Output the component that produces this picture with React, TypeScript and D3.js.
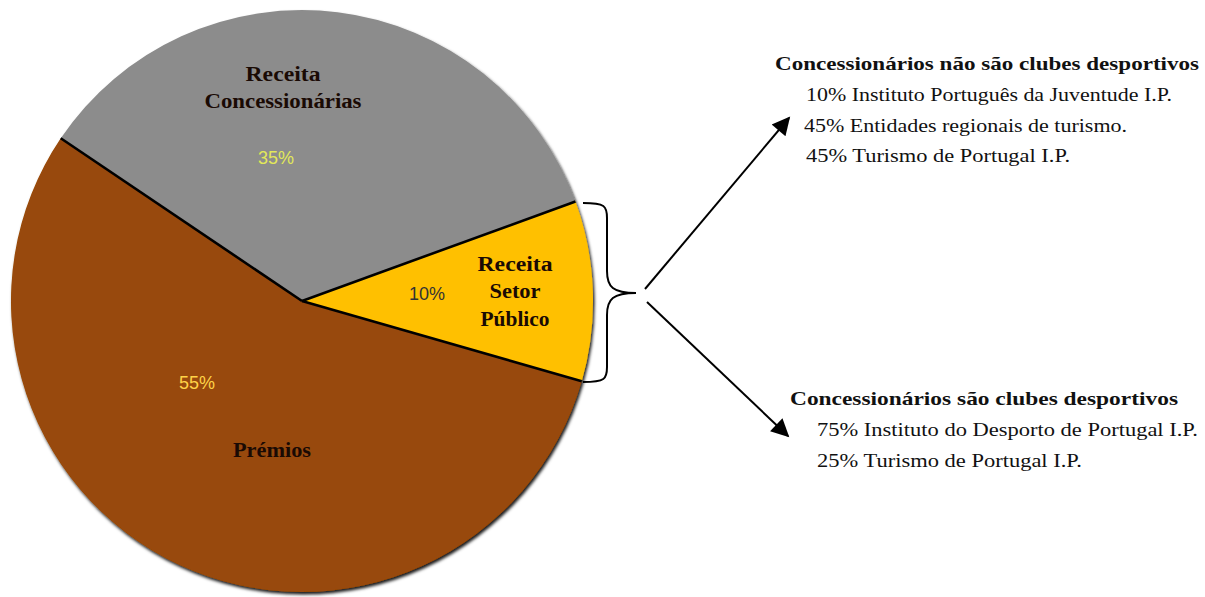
import React from "react";
import * as d3 from "d3";

const categories = ["Receita Setor Público", "Prémios", "Receita Concessionárias"];
const values = [10, 55, 35];
const pctLabels = ["10%", "55%", "35%"];
const sliceColors = ["#FFC000", "#984807", "#8C8C8C"];
const pctColors = ["#333333", "#FFD347", "#E2E85A"];
const nameLines = [["Receita", "Setor", "Público"], ["Prémios"], ["Receita", "Concessionárias"]];

const topHeading = "Concessionários não são clubes desportivos";
const topItems = [
  "10% Instituto Português da Juventude I.P.",
  "45% Entidades regionais de turismo.",
  "45% Turismo de Portugal I.P.",
];
const bottomHeading = "Concessionários são clubes desportivos";
const bottomItems = [
  "75% Instituto do Desporto de Portugal I.P.",
  "25% Turismo de Portugal I.P.",
];

const W = 1205;
const H = 597;
const cx = 302;
const cy = 301;
const R = 291;
const deg = Math.PI / 180;
const startA = 70 * deg;

// label placement per slice (centre x, baselines y, text lengths)
const nameAnchors = [
  { x: 515, ys: [271, 298, 326], lens: [75, 51, 69] },
  { x: 272, ys: [457], lens: [78] },
  { x: 283, ys: [81, 108], lens: [75, 157] },
];
const pctAnchors = [
  { x: 427, y: 300 },
  { x: 197, y: 389 },
  { x: 276, y: 164 },
];

const serif = "'Liberation Serif', 'Times New Roman', serif";
const sans = "'Liberation Sans', Arial, sans-serif";

export default function App() {
  const pie = d3
    .pie<number>()
    .sort(null)
    .startAngle(startA)
    .endAngle(startA + 2 * Math.PI)(values);
  const arc = d3.arc<d3.PieArcDatum<number>>().innerRadius(0).outerRadius(R);

  const radial = (a: number) => [cx + Math.sin(a) * R, cy - Math.cos(a) * R];

  // bracket
  const bx0 = 583, bx1 = 607, bTop = 203, bBot = 382, bMid = 293, bTip = 636;
  const brace = `M ${bx0} ${bTop} C ${bx1 - 2} ${bTop} ${bx1} ${bTop + 3} ${bx1} ${bTop + 15}
    L ${bx1} ${bMid - 22} C ${bx1} ${bMid - 6} ${bx1 + 6} ${bMid} ${bTip} ${bMid}
    C ${bx1 + 6} ${bMid} ${bx1} ${bMid + 6} ${bx1} ${bMid + 22}
    L ${bx1} ${bBot - 15} C ${bx1} ${bBot - 3} ${bx1 - 2} ${bBot} ${bx0} ${bBot}`;

  const topLens = [366, 323, 264];
  const botLens = [381, 265];

  return (
    <svg width={W} height={H} style={{ position: "absolute", left: 0, top: 0, background: "#fff" }}>
      <defs>
        <filter id="sh" x="-10%" y="-10%" width="120%" height="120%">
          <feDropShadow dx="1.5" dy="2.5" stdDeviation="1.5" floodColor="#000" floodOpacity="0.9" />
        </filter>
        <marker id="ah" viewBox="0 0 10 10" refX="9" refY="5" markerWidth="10" markerHeight="9" orient="auto">
          <path d="M0,0 L10,5 L0,10 z" fill="#000" />
        </marker>
      </defs>
      <g filter="url(#sh)">
        {pie.map((d, i) => (
          <path key={i} d={arc(d) || ""} transform={`translate(${cx},${cy})`} fill={sliceColors[i]} />
        ))}
      </g>
      {pie.map((d, i) => {
        const [x, y] = radial(d.startAngle);
        return <line key={i} x1={cx} y1={cy} x2={x} y2={y} stroke="#000" strokeWidth={2.6} />;
      })}
      {pie.map((d, i) => (
        <g key={i}>
          {nameLines[i].map((t, j) => (
            <text
              key={j}
              x={nameAnchors[i].x}
              y={nameAnchors[i].ys[j]}
              textAnchor="middle"
              fontFamily={serif}
              fontWeight="bold"
              fontSize={20}
              fill="#1a0a04"
              textLength={nameAnchors[i].lens[j]}
              lengthAdjust="spacingAndGlyphs"
            >
              {t}
            </text>
          ))}
          <text
            x={pctAnchors[i].x}
            y={pctAnchors[i].y}
            textAnchor="middle"
            fontFamily={sans}
            fontSize={18}
            fill={pctColors[i]}
          >
            {pctLabels[i]}
          </text>
        </g>
      ))}
      <path d={brace} fill="none" stroke="#000" strokeWidth={2} />
      <line x1={645} y1={289} x2={789} y2={118} stroke="#000" strokeWidth={2} markerEnd="url(#ah)" />
      <line x1={647} y1={302} x2={788} y2={436} stroke="#000" strokeWidth={2} markerEnd="url(#ah)" />
      <text x={775} y={70} fontFamily={serif} fontWeight="bold" fontSize={19} fill="#111" textLength={424} lengthAdjust="spacingAndGlyphs">
        {topHeading}
      </text>
      {topItems.map((t, i) => (
        <text key={i} x={[806, 804, 806][i]} y={101 + i * 30.5} fontFamily={serif} fontSize={19} fill="#111" textLength={topLens[i]} lengthAdjust="spacingAndGlyphs">
          {t}
        </text>
      ))}
      <text x={790} y={405} fontFamily={serif} fontWeight="bold" fontSize={19} fill="#111" textLength={388} lengthAdjust="spacingAndGlyphs">
        {bottomHeading}
      </text>
      {bottomItems.map((t, i) => (
        <text key={i} x={817} y={436 + i * 31} fontFamily={serif} fontSize={19} fill="#111" textLength={botLens[i]} lengthAdjust="spacingAndGlyphs">
          {t}
        </text>
      ))}
    </svg>
  );
}
